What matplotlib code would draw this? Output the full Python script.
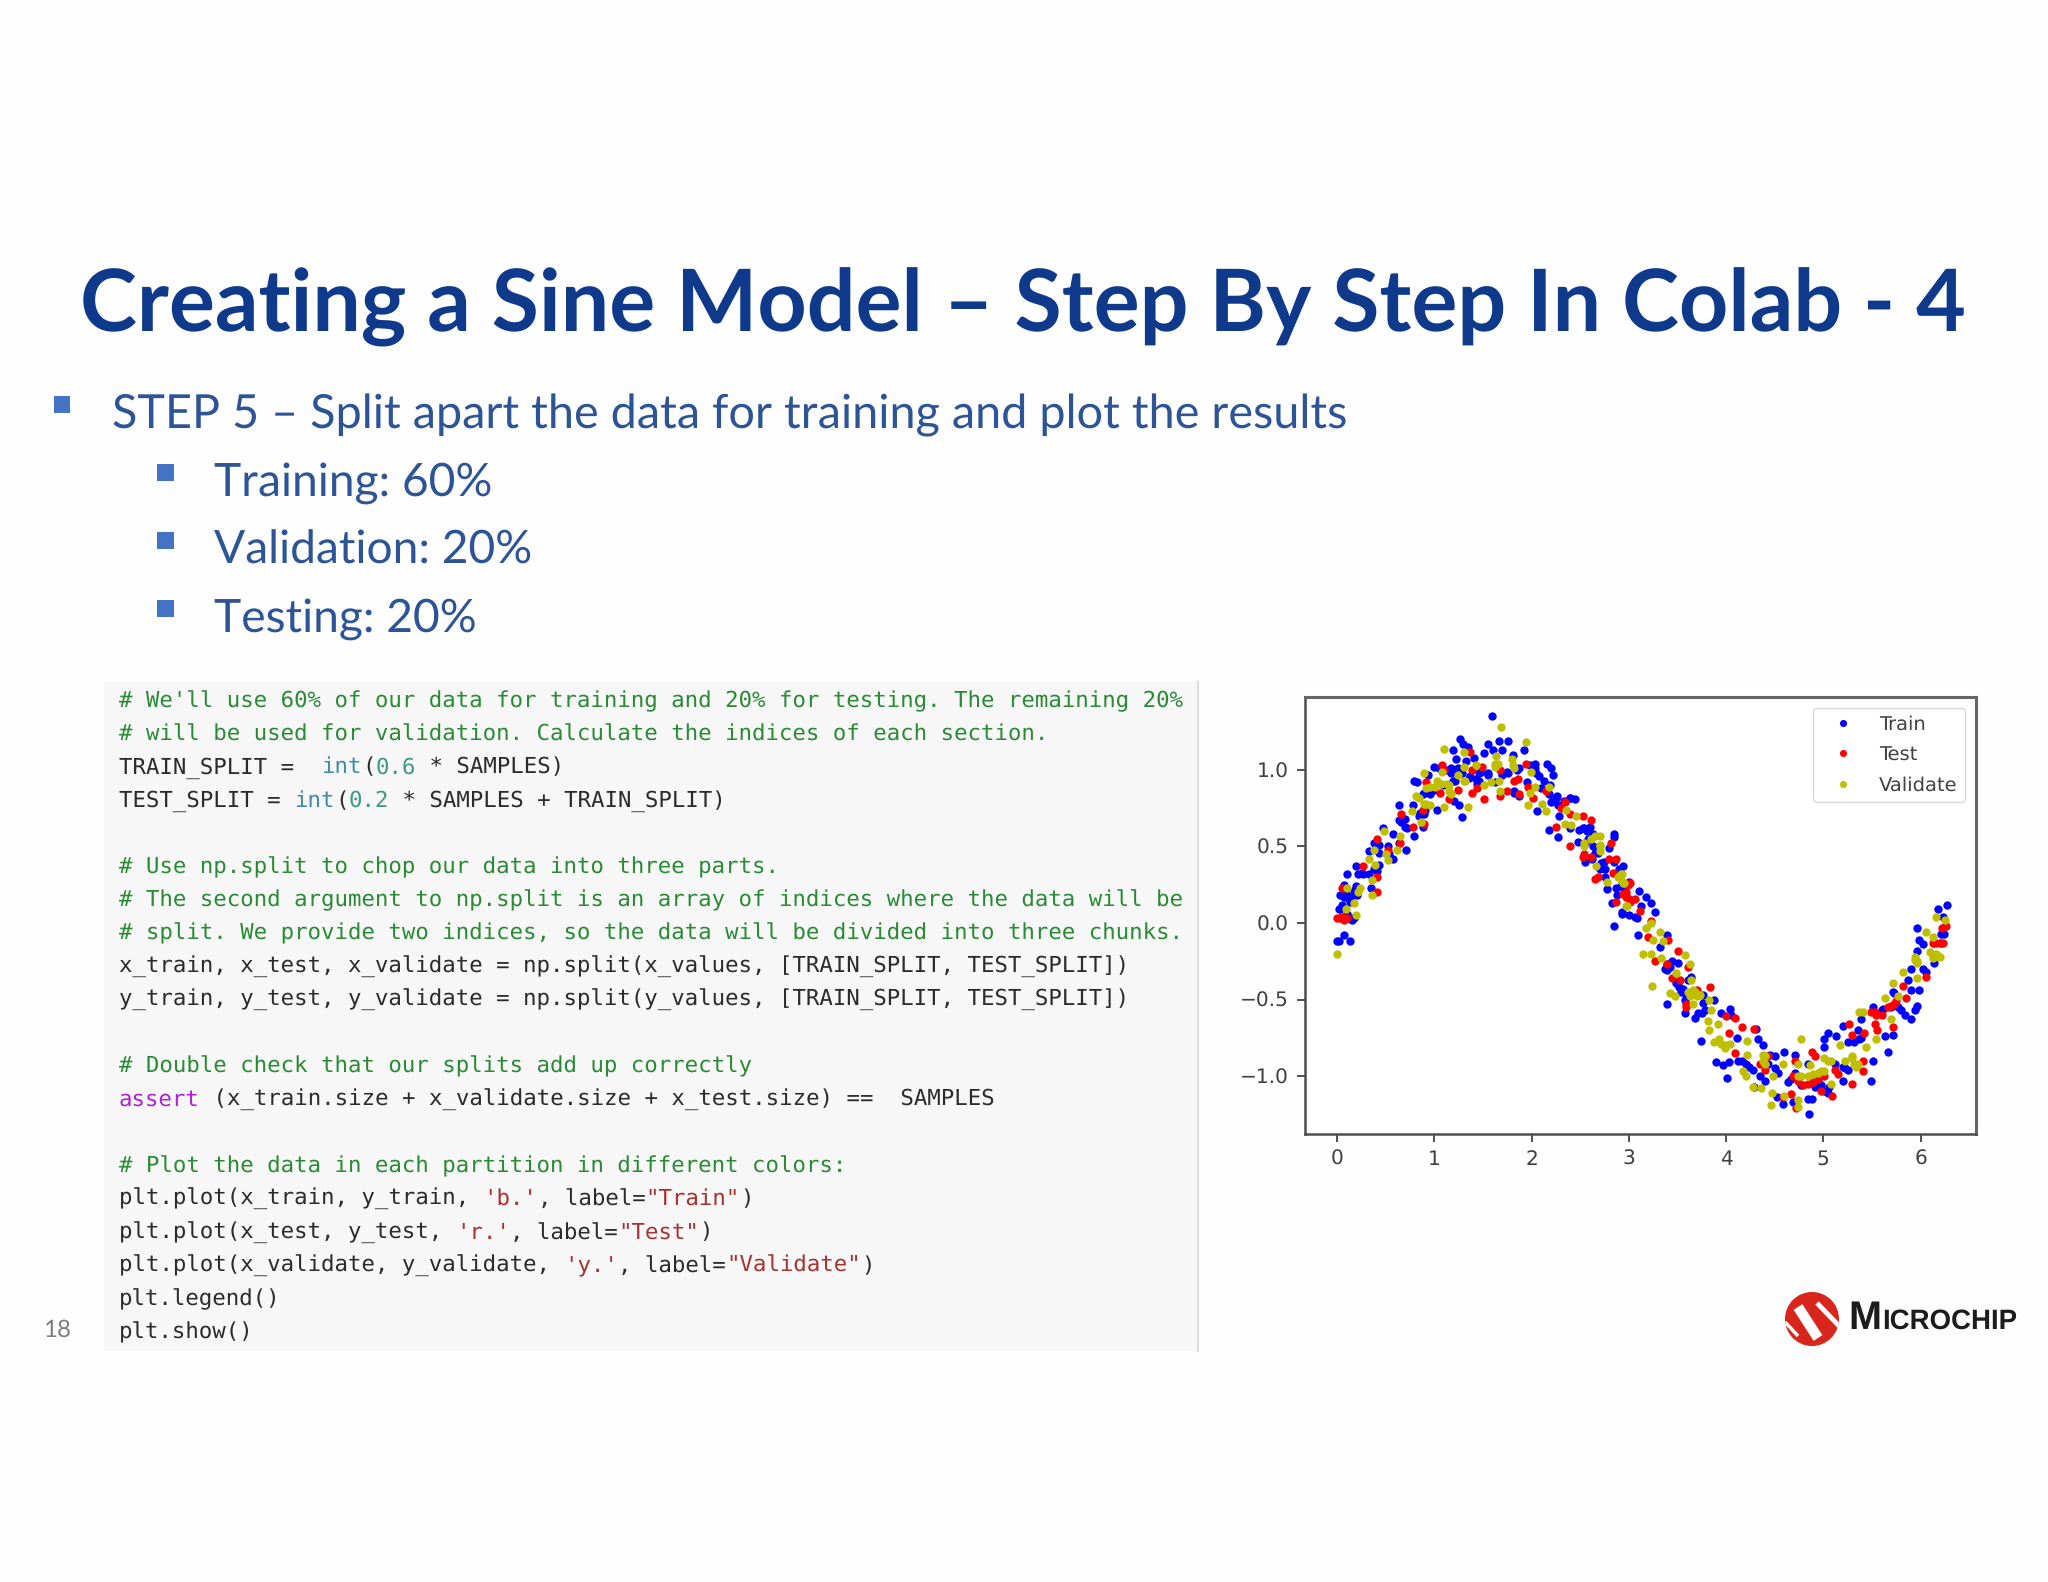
import matplotlib
matplotlib.use("Agg")
import matplotlib.pyplot as plt
from matplotlib.patches import Rectangle, Circle

plt.rcParams["text.hinting"] = "no_hinting"

W, H = 2048, 1582

# ---------- chart data ----------
x_train = [0.00,0.02,0.07,0.13,0.02,0.03,0.05,0.07,0.09,0.11,0.13,0.07,0.10,0.14,0.17,0.17,0.19,0.20,0.10,0.19,0.22,0.27,0.35,0.33,0.38,0.43,0.47,0.57,0.58,0.53,0.43,0.41,
           0.64,0.64,0.66,0.70,0.71,0.72,0.79,0.78,0.79,0.82,0.88,0.85,0.90,0.88,0.93,1.00,1.03,1.09,1.12,1.17,1.19,1.21,1.22,1.25,1.26,1.29,1.28,1.20,1.24,1.28,1.33,1.35,1.36,
           1.41,1.43,1.46,1.51,1.55,1.55,1.59,1.60,1.62,1.66,1.70,1.70,1.76,1.76,1.81,1.85,1.82,1.87,1.92,1.95,1.98,2.03,2.05,2.06,2.10,2.16,2.20,2.22,2.19,2.18,2.22,2.25,2.27,2.28,
           2.33,2.40,2.45,2.40,2.48,2.55,2.53,2.57,2.60,2.58,2.62,2.55,2.63,2.68,2.70,2.74,2.75,2.78,2.85,2.85,2.88,2.90,2.83,2.85,2.93,2.95,2.97,3.00,3.02,
           2.94,3.00,3.10,3.18,3.23,3.27,3.06,3.08,3.13,2.93,3.09,3.39,3.32,3.51,3.39,3.64,3.39,3.58,3.68,3.75,3.74,3.88,3.76,3.61,3.52,3.95,4.04,4.11,3.90,3.97,4.03,4.01,4.12,4.21,4.28,
           4.31,4.33,4.38,4.45,4.50,4.40,4.29,4.52,4.59,4.60,4.71,4.64,4.69,4.85,4.84,4.88,4.71,4.84,4.95,5.01,5.05,5.01,5.13,5.20,5.20,5.22,5.05,5.25,5.36,5.39,5.37,5.51,5.49,5.51,
           5.63,5.72,5.67,5.60,5.72,5.84,5.90,5.80,5.96,5.94,5.98,5.87,5.90,5.96,6.02,6.06,6.02,5.98,5.96,6.14,6.21,6.24,6.23,6.27,6.18,3.37,3.44,3.52,3.56,3.58,3.76,
           0.09,0.14,0.19,0.03,0.15,0.10,0.26,0.33,0.38,0.43,0.52,0.64,0.70,0.84,0.89,0.96,0.89,1.00,1.05,1.17,1.19,1.24,1.37,1.46,1.48,1.44,1.55,1.70,1.75,1.87,1.82,2.04,2.08,2.13,2.18,2.26,2.20,2.27,2.39,2.49,2.54,2.59,2.63,2.65,2.71,2.75,2.85,2.80,2.92,2.87,
           3.39,3.42,3.49,3.54,3.59,3.71,3.78,4.05,4.16,4.24,4.35,4.43,4.50,4.53,4.67,4.77,4.91,4.98,5.06,5.01,5.12,5.20,5.25,5.39,5.32,5.61,5.70,5.77,5.90,5.73]
y_train = [-0.12,-0.12,-0.08,-0.12,0.09,0.18,0.12,0.17,0.19,0.17,0.14,0.25,0.06,0.03,0.03,0.21,0.24,0.18,0.32,0.37,0.32,0.32,0.23,0.47,0.52,0.51,0.62,0.58,0.42,0.45,0.38,0.34,
           0.77,0.67,0.66,0.68,0.48,0.62,0.57,0.77,0.93,0.92,0.63,0.72,0.74,0.84,0.97,1.02,0.74,0.90,1.00,0.98,1.13,0.93,1.07,0.77,1.20,1.17,0.69,0.80,1.00,0.98,1.06,1.15,0.95,
           1.08,0.94,0.98,1.11,1.17,0.97,1.35,1.13,0.92,1.19,1.13,0.97,1.19,0.98,1.10,1.00,0.86,0.83,1.13,0.92,1.03,1.04,0.98,0.73,0.88,1.04,1.01,0.97,0.90,0.61,0.80,0.82,0.56,0.70,
           0.80,0.82,0.81,0.62,0.53,0.52,0.62,0.60,0.63,0.55,0.42,0.40,0.58,0.46,0.35,0.40,0.30,0.22,0.56,0.40,0.18,0.35,0.13,-0.02,0.07,0.22,0.25,0.05,0.15,
           0.37,0.27,0.21,0.17,0.13,0.07,0.04,0.03,0.11,0.06,-0.08,-0.08,-0.16,-0.26,-0.31,-0.35,-0.53,-0.59,-0.62,-0.59,-0.77,-0.50,-0.47,-0.37,-0.42,-0.59,-0.56,-0.75,-0.91,-0.93,-0.91,-1.01,-0.90,-0.92,-0.96,
           -0.69,-0.76,-0.80,-0.86,-0.87,-1.03,-1.07,-1.14,-1.18,-0.84,-0.86,-1.04,-1.17,-1.25,-1.15,-1.15,-0.98,-0.92,-1.03,-0.81,-0.72,-0.76,-0.74,-0.67,-1.03,-0.95,-1.11,-0.78,-0.70,-0.63,-0.76,-0.90,-1.03,-0.55,
           -0.74,-0.73,-0.84,-0.57,-0.45,-0.60,-0.63,-0.57,-0.54,-0.57,-0.44,-0.37,-0.30,-0.18,-0.30,-0.32,-0.14,-0.11,-0.03,-0.26,-0.07,-0.07,0.04,0.12,0.09,-0.30,-0.25,-0.38,-0.43,-0.50,-0.52,
           0.17,0.17,0.23,0.09,0.02,0.03,0.33,0.32,0.35,0.46,0.50,0.52,0.63,0.70,0.71,0.84,0.85,0.87,1.01,1.01,0.93,1.01,0.96,0.93,0.99,0.91,0.98,0.98,0.99,1.01,0.85,1.01,0.96,0.93,0.84,0.83,0.79,0.77,0.82,0.61,0.62,0.62,0.50,0.46,0.39,0.35,0.58,0.49,0.24,0.23,
           -0.27,-0.29,-0.39,-0.45,-0.47,-0.59,-0.57,-0.60,-0.90,-0.94,-1.00,-0.92,-0.95,-0.98,-1.02,-1.06,-1.07,-1.06,-1.07,-1.10,-0.92,-0.94,-0.96,-0.75,-0.78,-0.56,-0.55,-0.55,-0.44,-0.46]

x_test = [0.00,0.05,0.10,0.09,0.05,0.27,0.41,0.41,0.41,0.52,0.65,0.66,0.78,0.89,0.88,0.91,1.08,1.06,1.15,1.24,1.10,1.37,1.39,1.44,1.51,1.49,1.39,1.68,1.75,1.68,1.82,1.86,1.87,1.94,1.96,2.01,2.15,2.25,2.30,2.34,2.39,2.39,2.53,2.61,2.54,2.61,2.82,2.80,2.87,2.65,2.68,2.84,2.97,2.87,3.01,
          2.99,2.94,2.98,3.06,3.01,3.11,3.20,3.23,3.40,3.51,3.27,3.39,3.61,6.26,6.22,6.21,6.13,6.06,
          3.83,3.44,3.53,3.59,3.70,4.00,4.09,4.16,4.29,4.03,4.09,4.35,4.43,4.40,4.71,4.69,4.67,4.72,4.59,4.88,4.91,4.84,4.95,4.98,5.09,5.12,5.15,5.30,5.26,5.30,5.42,5.41,5.41,5.49,5.54,5.53,5.55,5.72,5.66,5.73,5.82,5.85,6.14,6.23,6.25,
          0.03,0.07,4.74,4.79,4.89,5.01,4.40,3.59,5.53,5.60,5.70,5.75,6.16,6.20,2.97,2.53]
y_test = [0.03,0.04,0.03,0.23,0.23,0.37,0.55,0.30,0.20,0.48,0.52,0.71,0.63,0.65,0.74,0.92,1.03,0.85,0.81,0.87,1.00,1.12,0.85,0.88,0.81,1.02,1.00,0.83,0.86,1.00,0.93,0.94,0.84,1.04,0.89,0.82,0.86,0.63,0.75,0.79,0.50,0.71,0.70,0.67,0.45,0.43,0.52,0.42,0.42,0.29,0.30,0.33,0.20,0.14,0.26,
          0.25,0.19,0.17,0.16,0.14,0.08,-0.09,0.01,-0.11,-0.18,-0.25,-0.27,-0.29,-0.02,-0.03,-0.13,-0.13,-0.35,
          -0.42,-0.36,-0.37,-0.53,-0.44,-0.61,-0.62,-0.68,-0.69,-0.72,-0.85,-0.92,-0.87,-0.96,-0.90,-1.00,-1.12,-1.21,-1.14,-0.84,-0.87,-1.05,-1.02,-1.10,-1.13,-0.96,-0.99,-1.05,-0.66,-0.73,-0.72,-0.90,-0.97,-0.58,-0.60,-0.66,-0.70,-0.68,-0.55,-0.53,-0.41,-0.49,-0.13,-0.13,-0.02,
          0.03,0.02,-1.03,-1.06,-1.04,-1.00,-0.93,-0.55,-0.58,-0.60,-0.54,-0.51,-0.13,-0.13,0.17,0.43]

x_validate = [0.00,0.09,0.19,0.17,0.10,0.24,0.22,0.36,0.36,0.33,0.39,0.38,0.48,0.52,0.50,0.62,0.65,0.86,0.77,0.81,0.89,0.91,0.89,0.96,1.03,1.10,1.10,1.15,1.13,1.08,1.24,1.31,1.32,1.31,1.35,1.43,1.51,1.58,1.67,1.62,1.63,1.69,1.94,1.81,1.80,1.68,1.99,2.04,1.96,1.98,2.11,2.15,2.18,2.35,2.34,2.41,2.46,2.54,2.61,2.70,2.70,2.70,2.66,2.78,2.92,2.94,2.97,
              2.93,2.95,2.98,3.23,3.18,3.32,3.25,3.35,3.15,3.23,3.33,3.58,3.63,3.49,6.16,6.25,6.06,6.13,6.16,6.20,6.13,5.94,5.96,
              3.24,3.42,3.47,3.64,3.61,3.68,3.66,3.73,3.82,3.84,3.81,3.82,3.92,3.88,3.95,3.99,4.04,4.22,4.22,4.17,4.21,4.28,4.36,4.38,4.40,4.48,4.47,4.46,4.60,4.59,4.77,4.74,4.74,4.74,4.74,4.86,4.84,4.95,5.01,5.01,5.08,5.08,5.17,5.22,5.30,5.34,5.44,5.54,5.37,5.41,5.63,5.72,5.70,5.77,5.82,5.96,5.94,
              0.96,1.01,1.15,1.17,1.07,0.91,0.84,1.31,1.62,1.65,1.82,2.54,2.65,2.70,2.89,2.92,3.66,3.70,3.63,3.93,3.99,4.40,4.38,4.77,4.89,4.98,5.05,5.32,5.29,5.36,6.13,6.17,6.10,5.96]
y_validate = [-0.20,0.09,0.05,0.13,0.23,0.23,0.20,0.28,0.18,0.42,0.38,0.48,0.60,0.41,0.45,0.48,0.57,0.66,0.73,0.83,0.98,0.88,0.78,0.77,0.93,1.14,0.76,0.86,0.91,0.99,0.97,1.12,0.93,1.02,0.76,1.03,0.90,0.92,0.93,1.04,1.09,1.28,1.18,1.03,1.07,0.86,0.99,0.89,0.77,0.85,0.78,0.73,0.89,0.74,0.65,0.64,0.70,0.52,0.55,0.57,0.51,0.47,0.37,0.27,0.32,0.26,0.11,
              0.32,0.26,0.11,0.00,-0.03,-0.06,-0.11,-0.12,-0.20,-0.20,-0.23,-0.21,-0.27,-0.33,0.04,0.02,-0.06,-0.09,-0.20,-0.22,-0.23,-0.22,-0.26,
              -0.41,-0.46,-0.48,-0.37,-0.45,-0.45,-0.53,-0.47,-0.50,-0.57,-0.64,-0.70,-0.66,-0.78,-0.79,-0.82,-0.79,-0.77,-0.86,-0.97,-1.00,-1.07,-1.08,-0.86,-0.92,-1.00,-1.11,-1.19,-1.13,-0.92,-0.76,-0.92,-1.00,-1.16,-1.20,-0.93,-1.00,-0.98,-0.97,-0.88,-0.90,-1.05,-0.80,-0.90,-0.87,-0.94,-0.81,-0.76,-0.58,-0.58,-0.49,-0.39,-0.63,-0.48,-0.32,-0.36,-0.24,
              0.89,0.89,0.90,0.84,0.91,0.78,0.82,0.93,1.02,1.04,1.01,0.50,0.57,0.50,0.30,0.28,-0.44,-0.48,-0.48,-0.76,-0.80,-0.87,-0.90,-1.00,-0.99,-0.97,-0.90,-0.92,-0.88,-0.92,-0.22,-0.21,-0.19,-0.25]

series_labels = ["Train", "Test", "Validate"]
x_ticks = [0, 1, 2, 3, 4, 5, 6]
y_ticks = [-1.0, -0.5, 0.0, 0.5, 1.0]

# ---------- slide text ----------
title = "Creating a Sine Model \u2013 Step By Step In Colab - 4"
bullet_main = "STEP 5 \u2013 Split apart the data for training and plot the results"
bullets_sub = ["Training: 60%", "Validation: 20%", "Testing: 20%"]
page_no = "18"

C_DEF, C_COM, C_FN, C_NUM, C_STR, C_KW = "#2b2b2b", "#2a8a35", "#3f8aa8", "#3f9a85", "#a83232", "#b020d8"
code_lines = [
    [("# We'll use 60% of our data for training and 20% for testing. The remaining 20%", C_COM)],
    [("# will be used for validation. Calculate the indices of each section.", C_COM)],
    [("TRAIN_SPLIT =  ", C_DEF), ("int", C_FN), ("(", C_DEF), ("0.6", C_NUM), (" * SAMPLES)", C_DEF)],
    [("TEST_SPLIT = ", C_DEF), ("int", C_FN), ("(", C_DEF), ("0.2", C_NUM), (" * SAMPLES + TRAIN_SPLIT)", C_DEF)],
    [],
    [("# Use np.split to chop our data into three parts.", C_COM)],
    [("# The second argument to np.split is an array of indices where the data will be", C_COM)],
    [("# split. We provide two indices, so the data will be divided into three chunks.", C_COM)],
    [("x_train, x_test, x_validate = np.split(x_values, [TRAIN_SPLIT, TEST_SPLIT])", C_DEF)],
    [("y_train, y_test, y_validate = np.split(y_values, [TRAIN_SPLIT, TEST_SPLIT])", C_DEF)],
    [],
    [("# Double check that our splits add up correctly", C_COM)],
    [("assert", C_KW), (" (x_train.size + x_validate.size + x_test.size) ==  SAMPLES", C_DEF)],
    [],
    [("# Plot the data in each partition in different colors:", C_COM)],
    [("plt.plot(x_train, y_train, ", C_DEF), ("'b.'", C_STR), (", label=", C_DEF), ('"Train"', C_STR), (")", C_DEF)],
    [("plt.plot(x_test, y_test, ", C_DEF), ("'r.'", C_STR), (", label=", C_DEF), ('"Test"', C_STR), (")", C_DEF)],
    [("plt.plot(x_validate, y_validate, ", C_DEF), ("'y.'", C_STR), (", label=", C_DEF), ('"Validate"', C_STR), (")", C_DEF)],
    [("plt.legend()", C_DEF)],
    [("plt.show()", C_DEF)],
]

# ---------- figure ----------
BG = "#fefefe"
fig = plt.figure(figsize=(W / 100, H / 100), dpi=100, facecolor=BG)
bg = fig.add_axes([0, 0, 1, 1], zorder=0)
bg.set_xlim(0, W)
bg.set_ylim(H, 0)
bg.axis("off")
renderer = fig.canvas.get_renderer()


def fit_text(x, y, s, width, **kw):
    t = bg.text(x, y, s, va="baseline", ha="left", **kw)
    t.set_fontsize(t.get_fontsize() * width / t.get_window_extent(renderer).width)
    return t


# title and bullets
fit_text(80, 331, title, 1886, family="Lato", weight="bold", color="#0f3a8c", fontsize=60)
body = fit_text(112, 428, bullet_main, 1237, family="Lato", color="#2c5496", fontsize=34)
for txt, yb in zip(bullets_sub, [496, 564, 632]):
    bg.text(214, yb, txt, family="Lato", color="#2c5496", fontsize=body.get_fontsize() * 0.985, va="baseline")
for (bx, by) in [(53.5, 396), (157, 464), (157, 531.5), (157, 600)]:
    bg.add_patch(Rectangle((bx, by), 16.5, 17, fc="#4472c4", ec="none"))

# code panel
bg.add_patch(Rectangle((104, 682), 1093, 669, fc="#f7f7f7", ec="none"))
bg.plot([1197.5, 1197.5], [682, 1351], color="#dddddd", lw=1.5)
CW, LH = 13.5, 33.22
for i, segs in enumerate(code_lines):
    col = 0
    for s, c in segs:
        bg.text(119 + col * CW, 707 + i * LH, s, family="DejaVu Sans Mono", fontsize=16.15,
                color=c, va="baseline", ha="left")
        col += len(s)

fit_text(43.5, 1337, page_no, 28, family="Lato", color="#7f7f7f", fontsize=20)

# logo
disc = Circle((1812, 1319), 27, fc="#d8261c", ec="none")
bg.add_patch(disc)
for pts, lw in [(((1798, 1307), (1818, 1338)), 7.5), (((1817, 1303), (1842, 1329)), 3.5), (((1785, 1322), (1798, 1336)), 2.5)]:
    ln, = bg.plot(*zip(*pts), color=BG, lw=lw, solid_capstyle="butt")
    ln.set_clip_path(disc)
fit_text(1848, 1329, "M", 33, family="Liberation Sans", weight="bold", color="#1c1c1c", fontsize=30)
fit_text(1882, 1329, "ICROCHIP", 135, family="Liberation Sans", weight="bold", color="#1c1c1c", fontsize=22)

# chart
ax = fig.add_axes([1305 / W, 1 - 1134 / H, (1976 - 1305) / W, (1134 - 697) / H], zorder=2)
ax.set_facecolor("white")
ms = 12
ax.plot(x_train, y_train, "b.", ms=ms, mew=0, label=series_labels[0])
ax.plot(x_test, y_test, "r.", ms=ms, mew=0, label=series_labels[1])
ax.plot(x_validate, y_validate, "y.", ms=ms, mew=0, label=series_labels[2])
ax.set_xlim(-0.33, 6.57)
ax.set_ylim(-1.379, 1.477)
ax.set_xticks(x_ticks)
ax.set_yticks(y_ticks)
ax.tick_params(labelsize=14.5, labelcolor="#404040", color="#505050", length=5.5, width=1.4, pad=6)
for side, sp in ax.spines.items():
    sp.set_color("#666666" if side in ("top", "right") else "#4d4d4d")
    sp.set_linewidth(2.2 if side in ("top", "right") else 1.8)
ax.legend(loc="upper right", fontsize=14, borderaxespad=0, bbox_to_anchor=(660 / 671, 1 - 11 / 437),
          labelspacing=0.6, handletextpad=0.7, handlelength=2.3, borderpad=0.4, edgecolor="#d9d9d9",
          framealpha=1, labelcolor="#404040", markerscale=0.85)

fig.savefig("out.png", dpi=100, facecolor=BG)
